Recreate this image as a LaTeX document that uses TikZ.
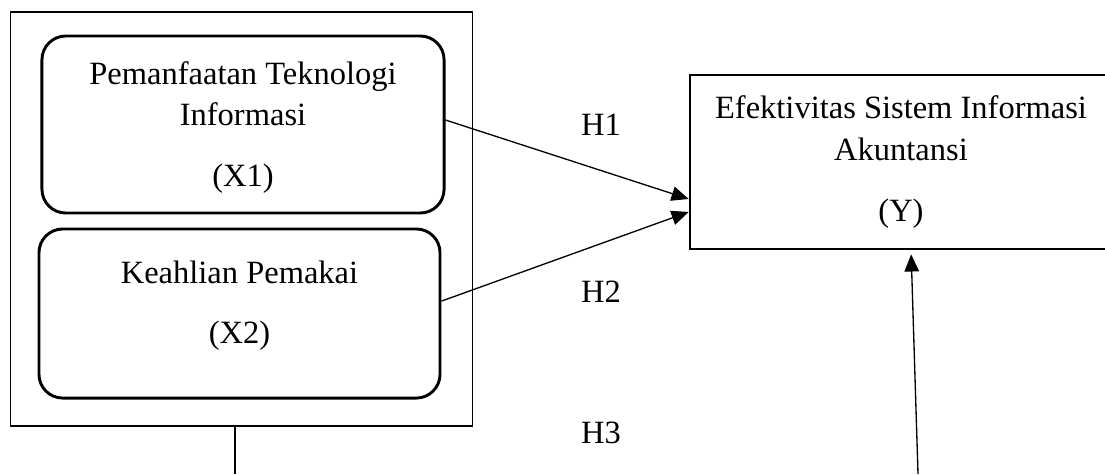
\documentclass[tikz,border=0pt]{standalone}
\usepackage{fontspec}
\setmainfont{Liberation Serif}
\usetikzlibrary{arrows.meta}

\begin{document}
\begin{tikzpicture}[x=0.3785pt, y=-0.3785pt]
    \tikzset{
      varbox/.style={draw, line width=1.1pt, rounded corners=9pt, inner sep=0pt},
      txt/.style={align=center, font=\fontsize{12.3pt}{15.7pt}\selectfont},
      link/.style={line width=0.5pt, -{Triangle[length=6.5pt, width=5.5pt]}}
    }
    \clip (0, 0) rectangle (1105, 474);

    % Independent variables
    \node [draw, line width=0.4pt, inner sep=0pt, minimum width=175.2pt,
           minimum height=156.7pt] (outer) at (241.5, 219) {};
    \node [varbox, minimum width=152.2pt, minimum height=67pt]
          (x1) at (243, 124.5) {};
    \node [txt] (x1text) at ([yshift=-1pt]x1.center) {Pemanfaatan Teknologi\\Informasi\\[7.3pt](X1)};
    \node [varbox, minimum width=151.8pt, minimum height=64pt]
          (x2) at (239.5, 313.5) {};
    \node [txt] (x2text) at ([yshift=3pt]x2.center) {Keahlian Pemakai\\[7.3pt](X2)};

    % Dependent variable
    \node [draw, line width=1pt, txt, minimum width=159.7pt, minimum height=65.9pt]
          (y) at (901, 162) {Efektivitas Sistem Informasi\\Akuntansi\\[7.3pt](Y)};

    % Hypotheses
    \foreach \i/\ypos in {1/125, 2/292, 3/433} {
      \node [txt] (h\i) at (601, \ypos) {H\i};
    }

    % Connections
    \draw [link] ([yshift=1.7pt]x1.east) -- ([yshift=-14pt]y.west);
    \draw [link] ([yshift=4.7pt]x2.east) -- ([yshift=-18.9pt]y.west);

    \coordinate (h3from) at (235, 474);
    \coordinate (h3to) at (918, 474);
    \draw [line width=0.5pt] (outer.south -| h3from) -- (h3from);
    \draw [link, shorten >=1.5pt] (h3to) -- ([xshift=3.8pt]y.south);
\end{tikzpicture}
\end{document}
